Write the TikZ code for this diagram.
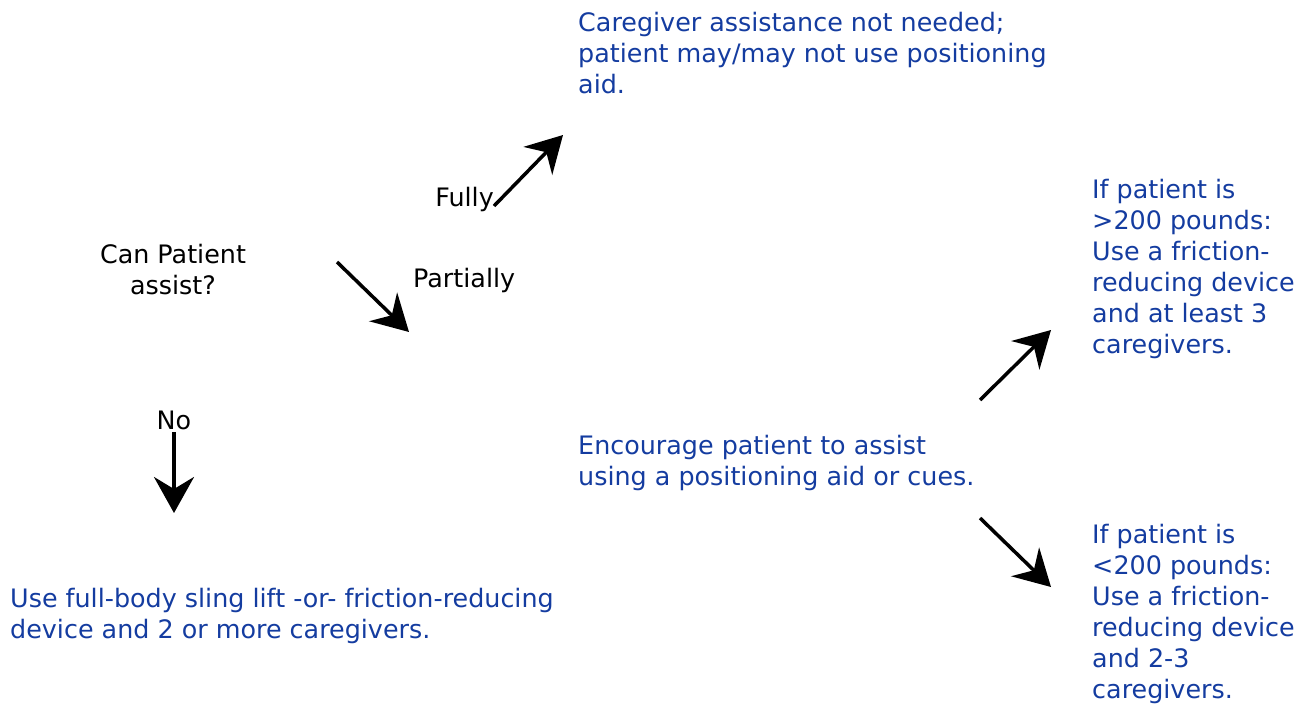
\documentclass[tikz,border=0pt]{standalone}
\usepackage{fontspec}
\setmainfont{DejaVu Sans}
\usetikzlibrary{positioning, arrows.meta}
\definecolor{advicecol}{RGB}{20, 60, 160}

\begin{document}
\begin{tikzpicture}[
    x=1pt, y=-1pt,
    question/.style={inner sep=0pt, align=center, font=\fontsize{25.4}{31}\selectfont},
    answer/.style={inner sep=0pt, font=\fontsize{25.4}{31}\selectfont},
    advice/.style={inner sep=0pt, align=left, anchor=north west, text=advicecol, font=\fontsize{25.4}{31}\selectfont},
    arrow/.style={-{Stealth[length=36pt, width=40pt, inset=12pt]}, line width=3.5pt}
]
    \useasboundingbox (0,0) rectangle (1311,704);

    \node[question] (assist) at (173,270) {Can Patient\\assist?};

    \node[advice] (indep) at (578,12) {Caregiver assistance not needed;\\patient may/may not use positioning\\aid.};
    \node[advice] (encourage) at (578,435) {Encourage patient to assist\\using a positioning aid or cues.};
    \node[advice] (sling) at (10,588) {Use full-body sling lift -or- friction-reducing\\device and 2 or more caregivers.};
    \node[advice] (heavy) at (1092,179) {If patient is\\>200 pounds:\\Use a friction-\\reducing device\\and at least 3\\caregivers.};
    \node[advice] (light) at (1092,524) {If patient is\\<200 pounds:\\Use a friction-\\reducing device\\and 2-3\\caregivers.};

    % arrow ends
    \coordinate (fullyA) at (494,206);
    \coordinate (fullyB) at (563,135);
    \coordinate (partA) at (337,262);
    \coordinate (partB) at (409,332);
    \coordinate (noA) at (174,432);
    \coordinate (noB) at (174,513);
    \coordinate (heavyA) at (980,400);
    \coordinate (heavyB) at (1051,330);
    \coordinate (lightA) at (980,518);
    \coordinate (lightB) at (1051,587);

    \node[answer, anchor=south east] (fully) at ([yshift=-6pt]fullyA) {Fully};
    \node[answer, anchor=west] (partially) at (413,280) {Partially};
    \node[answer] (no) at (174,420) {No};

    \draw [arrow] (fullyA) -- (fullyB);
    \draw [arrow] (partA) -- (partB);
    \draw [arrow] (noA) -- (noB);
    \draw [arrow] (heavyA) -- (heavyB);
    \draw [arrow] (lightA) -- (lightB);
\end{tikzpicture}
\end{document}
